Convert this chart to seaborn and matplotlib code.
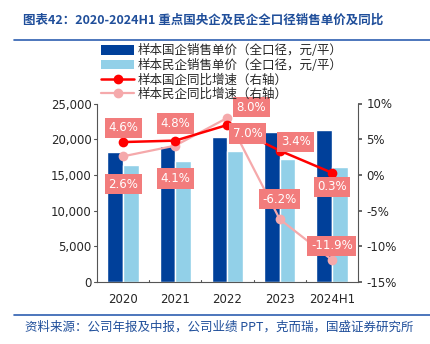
import matplotlib
matplotlib.use("Agg")
import matplotlib.pyplot as plt
import seaborn as sns
import pandas as pd
import numpy as np
from matplotlib.lines import Line2D
from matplotlib.patches import Patch

categories = ["2020", "2021", "2022", "2023", "2024H1"]
soe_price = [18150, 19050, 20350, 21050, 21300]
private_price = [16350, 17000, 18400, 17270, 16100]
soe_yoy = [4.6, 4.8, 7.0, 3.4, 0.3]
private_yoy = [2.6, 4.1, 8.0, -6.2, -11.9]
left_ticks = [0, 5000, 10000, 15000, 20000, 25000]
right_ticks = [-15, -10, -5, 0, 5, 10]

series_names = ["样本国企销售单价（全口径，元/平）", "样本民企销售单价（全口径，元/平）",
                "样本国企同比增速（右轴）", "样本民企同比增速（右轴）"]

sns.set_theme(style="white")
plt.rcParams['font.family'] = ['Noto Sans CJK SC', 'DejaVu Sans']
plt.rcParams['axes.unicode_minus'] = False

c_dark = "#00409A"
c_light = "#92D0E8"
c_red = "#FF0000"
c_pink = "#F5A9AB"
c_title = "#1F4E9A"

fig = plt.figure(figsize=(4.31, 3.44), dpi=100)
ax = fig.add_axes([97/431, 1-282/344, (358-97)/431, (282-103.5)/344])

df = pd.DataFrame({
    "cat": categories * 2,
    "val": soe_price + private_price,
    "ser": [series_names[0]] * 5 + [series_names[1]] * 5,
})
sns.barplot(data=df, x="cat", y="val", hue="ser", palette=[c_dark, c_light],
            width=0.6, gap=0, ax=ax, legend=False, saturation=1)
ax.set_xlim(-0.5, 4.5)
ax.set_ylim(0, 25000)
ax.set_yticks(left_ticks)
ax.set_yticklabels([f"{v:,}" for v in left_ticks], fontsize=8.5, family="DejaVu Sans")
ax.set_xlabel("")
ax.set_ylabel("")
ax.set_xticks(range(5))
ax.set_xticklabels(categories, fontsize=8.5, family="DejaVu Sans")
ax.tick_params(axis="x", length=0, pad=8)
ax.tick_params(axis="y", length=0, pad=4)
for x in [0.5, 1.5, 2.5, 3.5]:
    ax.plot([x, x], [0, 350], color="#555555", lw=0.8, clip_on=False)
for s in ["top", "right"]:
    ax.spines[s].set_visible(False)
ax.spines["left"].set_color("#555555")
ax.spines["bottom"].set_color("#555555")
ax.spines["left"].set_linewidth(0.8)
ax.spines["bottom"].set_linewidth(0.8)
for yv in left_ticks:
    ax.plot([-0.5, -0.5 - 0.05], [yv, yv], color="#555555", lw=0.8, clip_on=False)

ax2 = ax.twinx()
ax2.set_ylim(-15, 10)
ax2.set_yticks(right_ticks)
ax2.set_yticklabels([f"{v}%" for v in right_ticks], fontsize=8.5, family="DejaVu Sans")
ax2.tick_params(axis="y", length=3, direction="out", color="#555555", pad=3)
for s in ["top", "left", "bottom"]:
    ax2.spines[s].set_visible(False)
ax2.spines["right"].set_color("#555555")
ax2.spines["right"].set_linewidth(0.8)

xs = np.arange(5)
sns.lineplot(x=xs, y=private_yoy, ax=ax2, color=c_pink, lw=1.6, marker="o",
             markersize=7, markeredgewidth=0, legend=False)
sns.lineplot(x=xs, y=soe_yoy, ax=ax2, color=c_red, lw=1.8, marker="o",
             markersize=7, markeredgewidth=0, legend=False)
ax2.set_xlim(-0.5, 4.5)

# data labels (offsets in x category units, y in % units)
soe_off = [(0, 2.0), (0, 2.4), (0.39, -1.2), (0.31, 1.25), (0, -1.95)]
pri_off = [(0, -3.9), (0, -4.6), (0.46, 1.45), (0, 2.8), (0, 2.0)]

def lab(x, y, v):
    ax2.text(x, y, f"{v:.1f}%", ha="center", va="center", color="white",
             fontsize=8.5, family="DejaVu Sans", zorder=10,
             bbox=dict(boxstyle="square,pad=0.3", fc="#F27C7C", ec="none"))

for i in range(5):
    lab(xs[i] + soe_off[i][0], soe_yoy[i] + soe_off[i][1], soe_yoy[i])
    lab(xs[i] + pri_off[i][0], private_yoy[i] + pri_off[i][1], private_yoy[i])

# legend
handles = [Patch(fc=c_dark, ec="none"), Patch(fc=c_light, ec="none"),
           Line2D([], [], color=c_red, lw=1.8, marker="o", markersize=6),
           Line2D([], [], color=c_pink, lw=1.6, marker="o", markersize=6)]
fig.legend(handles, series_names, loc="upper left", bbox_to_anchor=(94/431, 1-37/344),
           frameon=False, fontsize=9, handlelength=2.6, handleheight=0.8,
           labelspacing=0.12, borderpad=0.1, handletextpad=0.3)

# title and lines
fig.text(23/431, 1-20/344, "图表42：2020-2024H1 重点国央企及民企全口径销售单价及同比",
         fontsize=9, color=c_title, style="italic", fontweight="bold", va="center")
fig.add_artist(Line2D([14/431, 430/431], [1-40/344, 1-40/344], color="#2E5FB0", lw=1.2))
fig.add_artist(Line2D([14/431, 430/431], [1-315/344, 1-315/344], color="#2E5FB0", lw=1.2))
fig.text(25/431, 1-327/344, "资料来源：公司年报及中报，公司业绩 PPT，克而瑞，国盛证券研究所",
         fontsize=9, color=c_title, style="italic", va="center")

fig.savefig("out.png", dpi=100)
